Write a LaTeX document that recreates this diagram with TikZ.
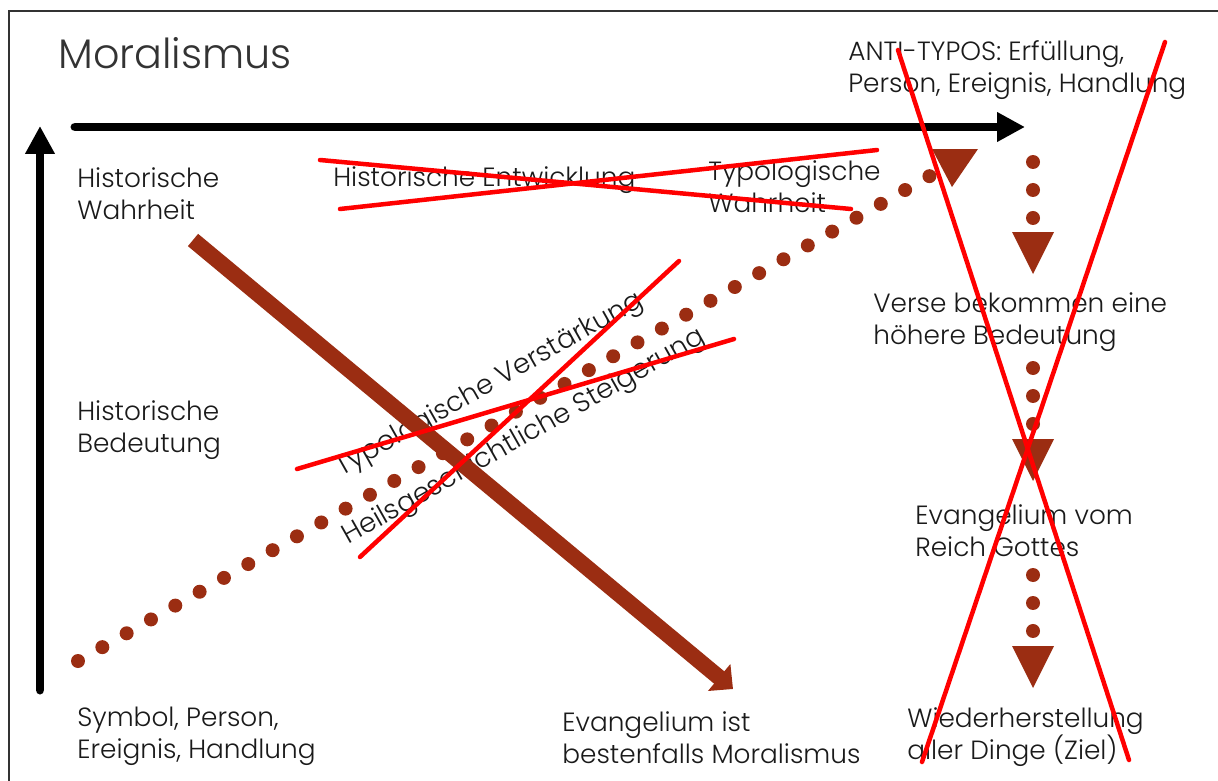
\documentclass[tikz,border=0pt]{standalone}
\usepackage{fontspec}
\setmainfont{Poppins}[UprightFont={* Light}]
\usetikzlibrary{arrows.meta}
\definecolor{rust}{HTML}{9B2D12}
\definecolor{strike}{HTML}{FF0000}
\definecolor{ink}{HTML}{1A1A1A}
\definecolor{frameink}{HTML}{333333}

\tikzset{
  txt/.style={anchor=north west, inner sep=0pt, align=left, text=ink, font=\fontsize{15}{18.2}\selectfont},
  headline/.style={anchor=north west, inner sep=0pt, text=frameink, font=\fontsize{23.5}{28}\selectfont},
  axisarrow/.style={line width=0.18cm, line cap=round, -{Triangle[length=0.56cm, width=0.56cm]}},
  dotline/.style={rust, line width=0.28cm, line cap=round, dash pattern=on 0pt off 0.56cm},
  strikeline/.style={strike, line width=0.09cm, line cap=round},
  moralarrow/.style={rust, line width=0.32cm, -{Triangle[length=0.36cm, width=0.68cm]}},
  headtri/.style={fill=rust},
}

\begin{document}
\begin{tikzpicture}[x=0.02cm, y=-0.02cm]
  \useasboundingbox (0,0) rectangle (1218,781);
  \clip (0,0) rectangle (1218,781);
  \draw[frameink, line width=0.03cm] (9,11) rectangle (1240,800);

  \node[headline] (title) at (58,37) {Moralismus};

  \node[txt] (histwahr) at (77,167) {Historische\\Wahrheit};
  \node[txt] (histbed) at (77,400) {Historische\\Bedeutung};
  \node[txt] (symbol) at (77,707) {Symbol, Person,\\Ereignis, Handlung};
  \node[txt] (histent) at (333,166) {Historische Entwicklung};
  \node[txt] (typwahr) at (708,160) {Typologische\\Wahrheit};
  \node[txt] (antitypos) at (848,40) {ANTI-TYPOS: Erfüllung,\\Person, Ereignis, Handlung};
  \node[txt] (verse) at (873,292) {Verse bekommen eine\\höhere Bedeutung};
  \node[txt] (evreich) at (915,504) {Evangelium vom\\Reich Gottes};
  \node[txt] (ziel) at (907,707) {Wiederherstellung\\aller Dinge (Ziel)};
  \node[txt] (moral) at (562,711) {Evangelium ist\\bestenfalls Moralismus};
  \node[txt, anchor=base west, rotate=29.5, font=\fontsize{15.5}{18.2}\selectfont] (verstaerk) at (341,477) {Typologische Verstärkung};
  \node[txt, anchor=base west, rotate=29.5, font=\fontsize{15.5}{18.2}\selectfont] (steiger) at (348,545) {Heilsgeschichtliche Steigerung};

  \coordinate (xorig) at (75,127);
  \coordinate (xend) at (1025,127);
  \coordinate (yorig) at (40,690);
  \coordinate (yend) at (40,126);
  \draw[axisarrow] (xorig) -- (xend);
  \draw[axisarrow] (yorig) -- (yend);

  \coordinate (dstart) at (78,661);
  \coordinate (dend) at (935,173);
  \draw[dotline] (dstart) -- (dend);
  \fill[headtri] (932,149) -- (978,149) -- (952,187) -- cycle;

  \foreach \a/\b/\t in {162/219/232, 368/426/439, 575/633/646} {
    \draw[dotline] (1033,\a) -- (1033,\b);
    \fill[headtri] (1012,\t) -- (1054,\t) -- (1033,\t+42) -- cycle;
  }

  \coordinate (mstart) at (193,240);
  \coordinate (mtip) at (733,689);
  \draw[moralarrow] (mstart) -- (mtip);

  \draw[strikeline] (320,160) -- (851,209);
  \draw[strikeline] (340,209) -- (877,150);
  \draw[strikeline] (297,469) -- (734,339);
  \draw[strikeline] (360,557) -- (679,261);
  \draw[strikeline] (898,50) -- (1129,760);
  \draw[strikeline] (1165,42) -- (922,762);
\end{tikzpicture}
\end{document}
